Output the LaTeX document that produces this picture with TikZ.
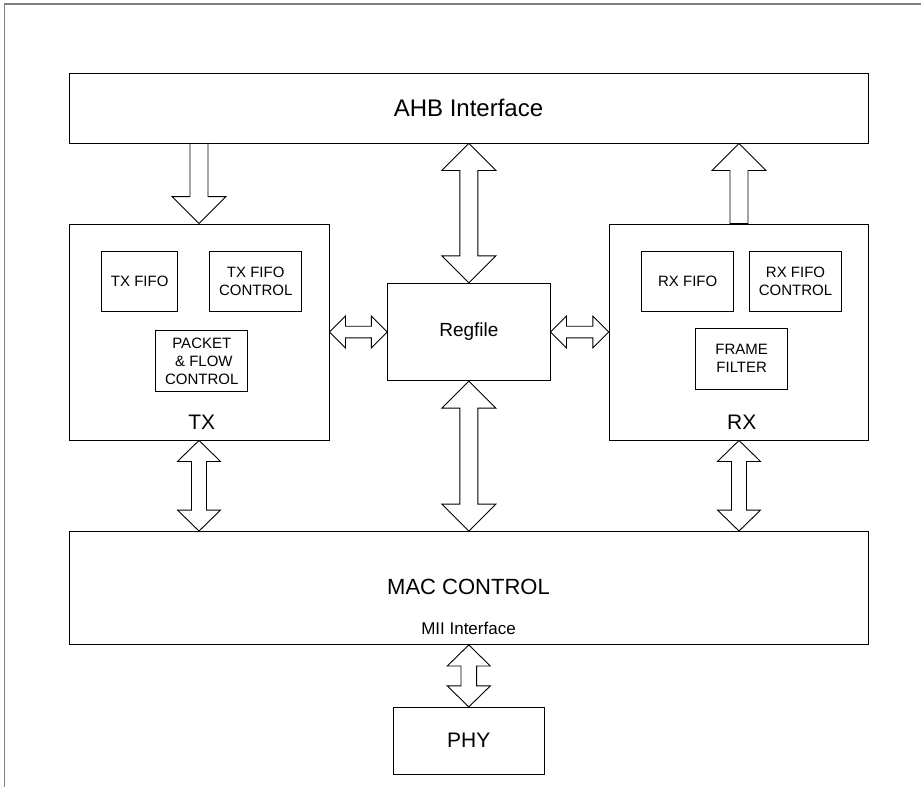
\documentclass[tikz,border=0pt]{standalone}
\usepackage{fontspec}
\setmainfont{Liberation Sans}
\usetikzlibrary{calc}

% hollow block arrows, #3 head half width, #4 shaft half width, #5 head length
\newcommand{\busv}[5]{% vertical, both ends
  \draw[bus] let \p1=(#1), \p2=(#2) in
    (\x1,\y1) -- (\x1+#3,\y1-#5) -- (\x1+#4,\y1-#5) -- (\x1+#4,\y2+#5)
    -- (\x1+#3,\y2+#5) -- (\x1,\y2) -- (\x1-#3,\y2+#5) -- (\x1-#4,\y2+#5)
    -- (\x1-#4,\y1-#5) -- (\x1-#3,\y1-#5) -- cycle;}
\newcommand{\busdown}[5]{% vertical, head at the lower end
  \draw[bus] let \p1=(#1), \p2=(#2) in
    (\x1-#4,\y1) -- (\x1-#4,\y2+#5) -- (\x1-#3,\y2+#5) -- (\x1,\y2)
    -- (\x1+#3,\y2+#5) -- (\x1+#4,\y2+#5) -- (\x1+#4,\y1) -- cycle;}
\newcommand{\busup}[5]{% vertical, head at the upper end
  \draw[bus] let \p1=(#1), \p2=(#2) in
    (\x1,\y1) -- (\x1+#3,\y1-#5) -- (\x1+#4,\y1-#5) -- (\x1+#4,\y2)
    -- (\x1-#4,\y2) -- (\x1-#4,\y1-#5) -- (\x1-#3,\y1-#5) -- cycle;}
\newcommand{\bush}[5]{% horizontal, both ends
  \draw[bus] let \p1=(#1), \p2=(#2) in
    (\x1,\y1) -- (\x1+#5,\y1+#3) -- (\x1+#5,\y1+#4) -- (\x2-#5,\y1+#4)
    -- (\x2-#5,\y1+#3) -- (\x2,\y1) -- (\x2-#5,\y1-#3) -- (\x2-#5,\y1-#4)
    -- (\x1+#5,\y1-#4) -- (\x1+#5,\y1-#3) -- cycle;}

\begin{document}
\begin{tikzpicture}[
    x=1pt, y=-1pt,
    block/.style={draw, line width=0.9pt, inner sep=0pt}, % outer blocks
    subblock/.style={draw, line width=0.9pt, inner sep=0pt, align=center,
                     font=\fontsize{15}{18}\selectfont}, % blocks inside TX/RX
    bus/.style={draw, line width=0.9pt, fill=white, line join=miter}, % hollow arrows
    title/.style={font=\fontsize{21}{24}\selectfont}
]
    \useasboundingbox (0,0) rectangle (921,787);

    % page frame
    \draw[gray, line width=1.2pt] (4.5,787) -- (4.5,4) -- (921,4);

    % Top bus
    \node[block, minimum width=799, minimum height=70,
          font=\fontsize{24}{28}\selectfont] (ahb) at (468.5,108) {AHB Interface};

    % TX side
    \node[block, minimum width=260, minimum height=216] (tx) at (199,332) {};
    \node[subblock, minimum width=76, minimum height=60] (txfifo) at (139.7,281.7) {TX FIFO};
    \node[subblock, minimum width=92, minimum height=60] (txctl) at (255.7,281.7) {TX FIFO\\CONTROL};
    \node[subblock, minimum width=92, minimum height=61] (txpkt) at (201.8,361.2) {PACKET\\\ \& FLOW\\CONTROL};
    \node[title] (txname) at (201.7,422) {TX};

    % RX side
    \node[block, minimum width=259.4, minimum height=216] (rx) at (739,332) {};
    \node[subblock, minimum width=92, minimum height=60] (rxfifo) at (687.7,281.7) {RX FIFO};
    \node[subblock, minimum width=92.4, minimum height=60] (rxctl) at (795.5,281.7) {RX FIFO\\CONTROL};
    \node[subblock, minimum width=92, minimum height=61] (rxfilter) at (741.7,358.8) {FRAME\\FILTER};
    \node[title] (rxname) at (741.7,422) {RX};

    % Register file
    \node[block, minimum width=162.3, minimum height=97.4,
          font=\fontsize{19}{22}\selectfont] (regfile) at (468.9,332) {Regfile};

    % MAC control
    \node[block, minimum width=799, minimum height=113] (mac) at (468.5,588) {};
    \node[font=\fontsize{22}{26}\selectfont] (macname) at (468.5,587) {MAC CONTROL};
    \node[font=\fontsize{17}{20}\selectfont] (mii) at (468.5,628) {MII Interface};

    % PHY
    \node[block, minimum width=151, minimum height=66.7,
          font=\fontsize{21}{24}\selectfont] (phy) at (468.8,740.7) {PHY};

    % Buses
    \busdown{ahb.south -| tx.north}{tx.north}{27pt}{9pt}{27pt}
    \busup{ahb.south -| rx.north}{rx.north}{27pt}{9pt}{27pt}
    \busv{ahb.south -| regfile.north}{regfile.north}{27pt}{9pt}{27pt}
    \busv{regfile.south}{mac.north -| regfile.south}{27pt}{9pt}{27pt}
    \busv{tx.south}{mac.north -| tx.south}{21.5pt}{7.5pt}{21pt}
    \busv{rx.south}{mac.north -| rx.south}{21.5pt}{7.5pt}{21pt}
    \busv{mac.south -| phy.north}{phy.north}{21.5pt}{7.8pt}{21pt}
    \bush{tx.east |- regfile.west}{regfile.west}{16pt}{5.8pt}{16pt}
    \bush{regfile.east}{rx.west |- regfile.east}{16pt}{5.8pt}{16pt}

\end{tikzpicture}
\end{document}
